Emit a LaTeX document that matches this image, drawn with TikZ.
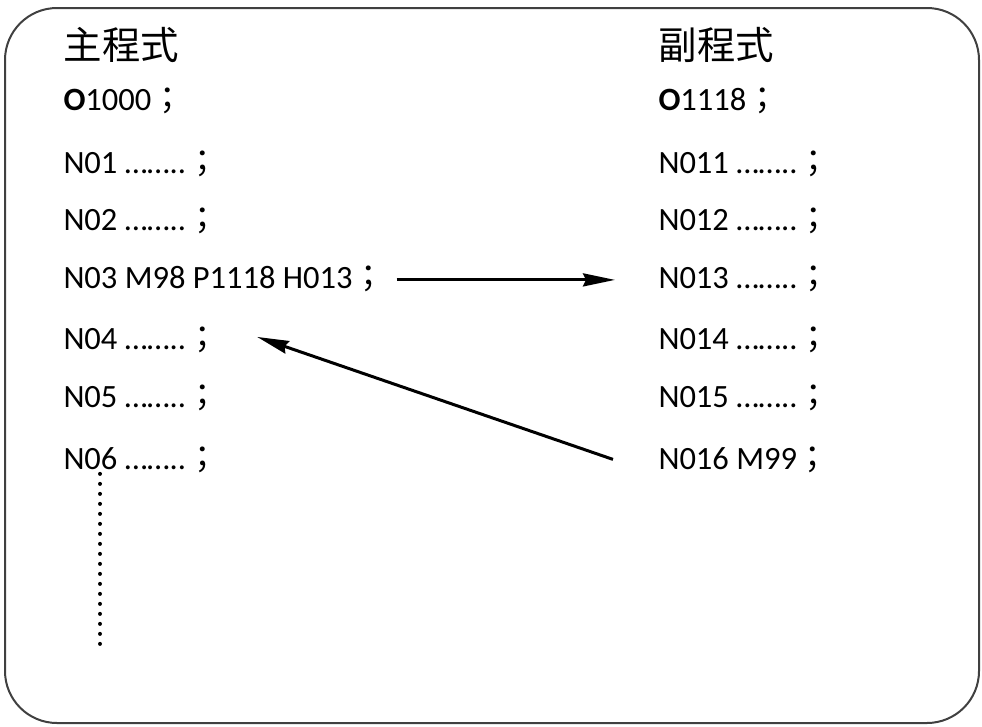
\documentclass[tikz,border=0pt]{standalone}
\usepackage{fontspec}
\setmainfont{Carlito}
\newfontfamily\cjk{Noto Sans CJK TC}
\usetikzlibrary{arrows.meta}
\definecolor{FrameGray}{HTML}{404040}
\newcommand{\semi}{{\cjk ；}}
\newcommand{\dotrun}{……..}

\begin{document}
\begin{tikzpicture}[x=1pt,y=-1pt,line width=3pt,
  code/.style={anchor=base west,inner sep=0pt,font=\fontsize{32.5}{38}\selectfont},
  title/.style={anchor=base west,inner sep=0pt,font=\fontsize{38.5}{44}\selectfont\cjk},
  jump/.style={-{Stealth[length=32pt,width=13pt,inset=3pt]}},
  trail/.style={line width=4pt,line cap=round,dash pattern=on 0pt off 10pt}]
\useasboundingbox (0,0) rectangle (982,726);
\draw[FrameGray,line width=2pt,rounded corners=52pt] (5,8) rectangle (979,723);
% main program
\node[title] (mainT) at (62,59) {主程式};
\node[code] (m0) at (62,110) {\textbf{O}1000\semi};
\node[code] (m1) at (62,173) {N01 \dotrun\semi};
\node[code] (m2) at (62,230) {N02 \dotrun\semi};
\node[code] (m3) at (62,288) {N03 M98 P1118 H013\semi};
\node[code] (m4) at (62,349) {N04 \dotrun\semi};
\node[code] (m5) at (62,407) {N05 \dotrun\semi};
\node[code] (m6) at (62,469) {N06 \dotrun\semi};
% sub program
\node[title] (subT) at (657,59) {副程式};
\node[code] (s0) at (657,110) {\textbf{O}1118\semi};
\node[code] (s1) at (657,173) {N011 \dotrun\semi};
\node[code] (s2) at (657,230) {N012 \dotrun\semi};
\node[code] (s3) at (657,288) {N013 \dotrun\semi};
\node[code] (s4) at (657,349) {N014 \dotrun\semi};
\node[code] (s5) at (657,407) {N015 \dotrun\semi};
\node[code] (s6) at (657,469) {N016 M99\semi};
\draw[jump] ([xshift=10pt,yshift=-1.5pt]m3.east) -- ([xshift=-42pt,yshift=-1.5pt]s3.west);
\draw[jump] ([xshift=-44pt]s6.west) -- ([xshift=37pt,yshift=2.5pt]m4.east);
\coordinate (tail) at (100,652);
\draw[trail] (m6.south -| tail) -- (tail);
\end{tikzpicture}
\end{document}
